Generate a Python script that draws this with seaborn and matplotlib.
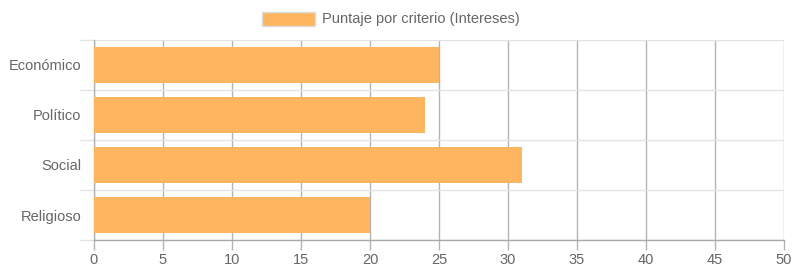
import matplotlib
matplotlib.use("Agg")
import matplotlib.pyplot as plt
import seaborn as sns
import pandas as pd
import numpy as np

categories = ["Económico", "Político", "Social", "Religioso"]
values = [25, 24, 31, 20]
series_label = "Puntaje por criterio (Intereses)"
x_ticks = [0, 5, 10, 15, 20, 25, 30, 35, 40, 45, 50]

sns.set_theme(style="white")
plt.rcParams['font.family'] = ['Liberation Sans', 'DejaVu Sans']

df = pd.DataFrame({"cat": categories, "val": values})

fig = plt.figure(figsize=(7.95, 2.75), dpi=100)
ax = fig.add_axes([94/795, 1-240/275, (784-94)/795, 200/275])

bar_color = "#FEB55F"
sns.barplot(data=df, y="cat", x="val", orient="h", color=bar_color, width=0.72,
            saturation=1, ax=ax, zorder=3, linewidth=0, edgecolor=bar_color)

ax.set_xlim(0, 50)
ax.set_ylim(len(categories) - 0.5, -0.5)
ax.set_xticks(x_ticks)
ax.set_xticklabels([str(t) for t in x_ticks])
ax.set_xlabel("")
ax.set_ylabel("")

# vertical grid (major x)
ax.xaxis.grid(True, color="#b3b3b3", linewidth=1, zorder=1)
# horizontal grid at category boundaries
ax.set_yticks(np.arange(len(categories)))
ax.set_yticklabels(categories)
ax.set_yticks(np.arange(-0.5, len(categories)), minor=True)
ax.yaxis.grid(True, which="minor", color="#e3e3e3", linewidth=1, zorder=1)
ax.yaxis.grid(False, which="major")
ax.set_axisbelow(True)

ax.tick_params(axis="x", which="major", length=7.5, width=1, color="#b3b3b3",
               labelsize=10.5, labelcolor="#666666", pad=2, direction="out", bottom=True)
ax.tick_params(axis="y", which="major", length=0, labelsize=10.5, labelcolor="#666666", pad=9)
ax.tick_params(axis="y", which="minor", length=10, width=1, color="#e3e3e3", left=True)

for s in ["top", "right"]:
    ax.spines[s].set_visible(False)
ax.spines["left"].set_color("#b3b3b3")
ax.spines["left"].set_linewidth(1)
ax.spines["bottom"].set_color("#a8a8a8")
ax.spines["bottom"].set_linewidth(1)

# legend
from matplotlib.patches import Patch
handle = Patch(facecolor=bar_color, edgecolor="#dddddd", linewidth=1)
fig.legend(handles=[handle], labels=[series_label], loc="center",
           bbox_to_anchor=(391/795, 1-19/275), frameon=False, fontsize=10.5,
           labelcolor="#666666", handlelength=3.6, handleheight=1.1, handletextpad=0.5)

fig.savefig("out.png", dpi=100)
